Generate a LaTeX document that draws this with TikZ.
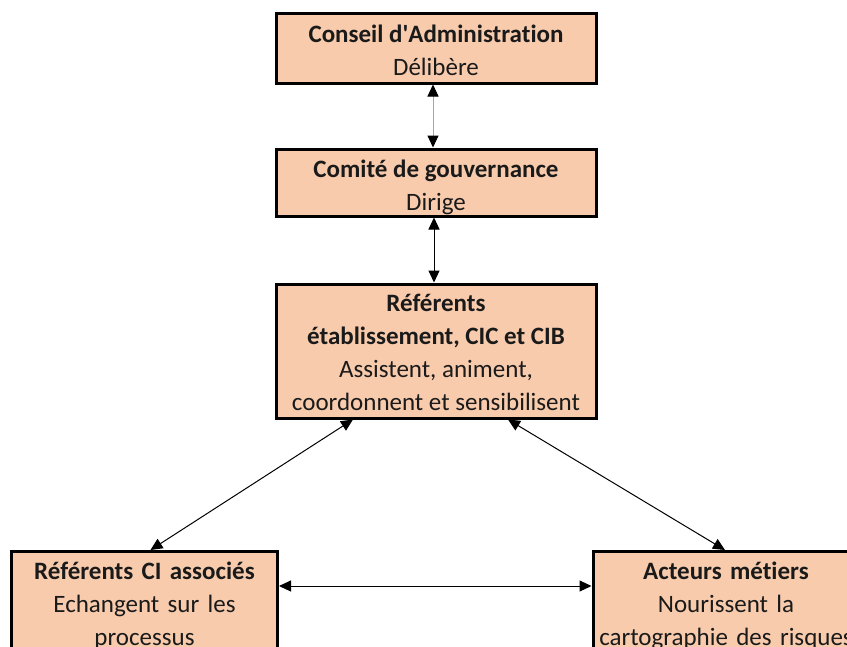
\documentclass[tikz,border=0pt]{standalone}
\usepackage{fontspec}
\setmainfont[Ligatures=NoCommon]{Carlito}
\usetikzlibrary{arrows.meta}
\definecolor{peach}{HTML}{F8CBAD}
\definecolor{txt}{HTML}{1A1A1A}
\newcommand{\boxlines}[2]{\raisebox{-#1}[\height][\depth]{\begin{tabular}{@{}c@{}}#2\end{tabular}}}
\tikzset{
  x=1pt, y=-1pt,
  box/.style={draw=black, line width=3pt, fill=peach, text=txt, align=center,
    font=\fontsize{25}{33}\selectfont, inner xsep=2pt},
  topbox/.style={box, minimum width=320, inner ysep=0pt},
  link/.style={line width=1pt, {Triangle[length=12pt,width=11pt,color=black]}-{Triangle[length=12pt,width=11pt,color=black]}},
}
\begin{document}
\begin{tikzpicture}
\useasboundingbox (0,0) rectangle (847,646);
\clip (0,0) rectangle (847,646);
\node[topbox, minimum height=70] (a) at (436,48)
  {\boxlines{4pt}{\textbf{Conseil d\textquotesingle Administration}\\Délibère}};
\node[topbox, minimum height=67] (b) at (436,182.5)
  {\boxlines{5pt}{\textbf{Comité de gouvernance}\\Dirige}};
\node[topbox, minimum height=134] (c) at (436,351)
  {\boxlines{3pt}{\textbf{Référents}\\\textbf{établissement, CIC et CIB}\\Assistent, animent,\\coordonnent et sensibilisent}};
\node[box, anchor=north, text width=262, inner ysep=10pt] (d) at (144.5,550)
  {\textbf{Référents CI associés}\\Echangent sur les\\processus\\ };
\node[box, anchor=north, text width=262, inner ysep=10pt] (e) at (726,550)
  {\textbf{Acteurs métiers}\\Nourissent la\\cartographie des risques\\ };
\coordinate (h) at (0,586);
\draw[link, draw=gray!70] ([xshift=-3]a.south) -- ([xshift=-3]b.north);
\draw[link] ([xshift=-2]b.south) -- ([xshift=-2]c.north);
\draw[link] ([xshift=-83]c.south) -- ([xshift=6]d.north);
\draw[link] ([xshift=72]c.south) -- ([xshift=-1]e.north);
\draw[link] (h -| d.east) -- (h -| e.west);
\end{tikzpicture}
\end{document}
